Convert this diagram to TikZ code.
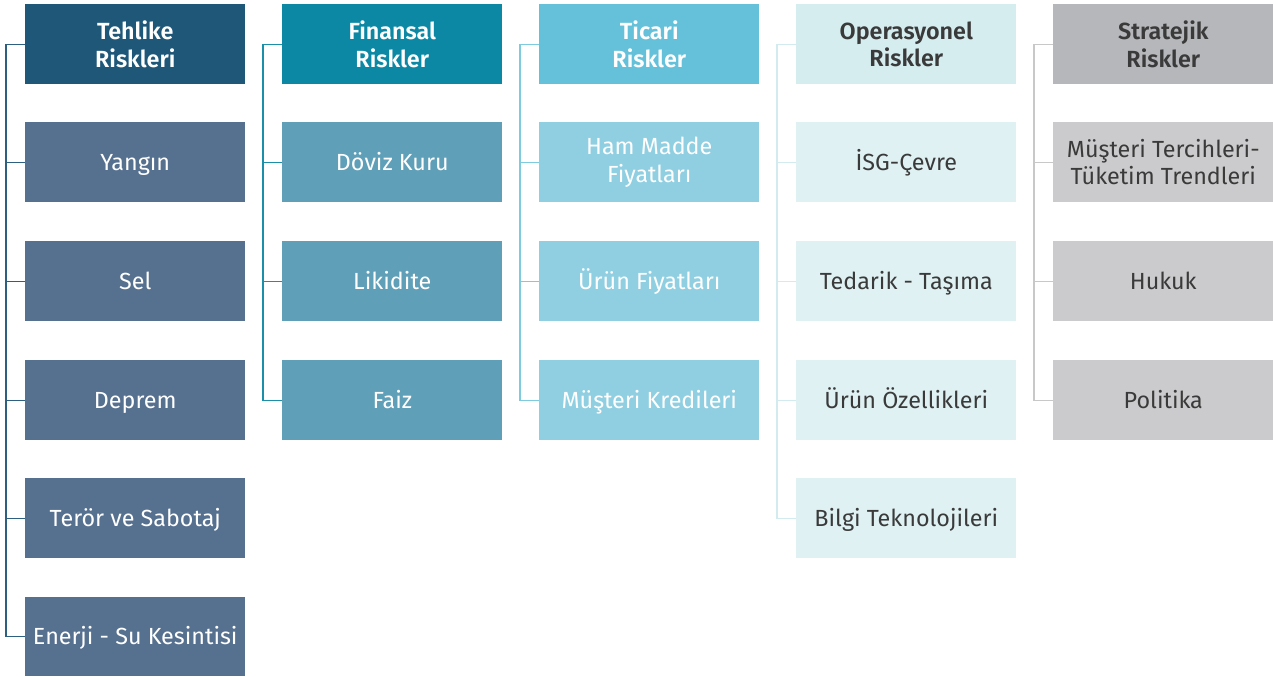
\documentclass[tikz,border=0pt]{standalone}
\usepackage{fontspec}
\setmainfont{Fira Sans}[BoldFont={Fira Sans SemiBold}]
\begin{document}
\begin{tikzpicture}[x=0.75pt,y=-0.75pt,
  box/.style={minimum width=165pt,minimum height=60pt,inner sep=0pt,align=center,font=\fontsize{17.5}{20.5}\selectfont,anchor=north west},
  one/.style={box,text height=12pt,text depth=0pt},
  head/.style={box,font=\fontsize{17.5}{20.5}\selectfont\bfseries},
  link/.style={line width=1pt}]
\definecolor{hA}{HTML}{1F5779}\definecolor{cA}{HTML}{56708F}\definecolor{lA}{HTML}{2D5F80}
\definecolor{hB}{HTML}{0C88A5}\definecolor{cB}{HTML}{609FB8}\definecolor{lB}{HTML}{1B8FAA}
\definecolor{hC}{HTML}{65C1DA}\definecolor{cC}{HTML}{8FCFE1}\definecolor{lC}{HTML}{7ECBE0}
\definecolor{hD}{HTML}{D6EDF0}\definecolor{cD}{HTML}{DFF1F3}\definecolor{lD}{HTML}{D3EBEF}
\definecolor{hE}{HTML}{B6B7BA}\definecolor{cE}{HTML}{CBCBCD}\definecolor{lE}{HTML}{C8C8C8}
\definecolor{tx}{HTML}{3A3A3A}
\useasboundingbox[fill=white] (0,0) rectangle (1273,676);
% column 1
\node[head,fill=hA,text=white] (a0) at (25,4) {Tehlike\\Riskleri};
\node[one,fill=cA,text=white] (a1) at (25,122) {Yangın};
\node[one,fill=cA,text=white] (a2) at (25,241) {Sel};
\node[one,fill=cA,text=white] (a3) at (25,360) {Deprem};
\node[one,fill=cA,text=white] (a4) at (25,478) {Terör ve Sabotaj};
\node[one,fill=cA,text=white,minimum height=59.25pt] (a5) at (25,597) {Enerji - Su Kesintisi};
% column 2
\node[head,fill=hB,text=white] (b0) at (282,4) {Finansal\\Riskler};
\node[one,fill=cB,text=white] (b1) at (282,122) {Döviz Kuru};
\node[one,fill=cB,text=white] (b2) at (282,241) {Likidite};
\node[one,fill=cB,text=white] (b3) at (282,360) {Faiz};
% column 3
\node[head,fill=hC,text=white] (c0) at (539,4) {Ticari\\Riskler};
\node[box,fill=cC,text=white] (c1) at (539,122) {Ham Madde\\Fiyatları};
\node[one,fill=cC,text=white] (c2) at (539,241) {Ürün Fiyatları};
\node[one,fill=cC,text=white] (c3) at (539,360) {Müşteri Kredileri};
% column 4
\node[head,fill=hD,text=tx] (d0) at (796,4) {Operasyonel\\Riskler};
\node[one,fill=cD,text=tx] (d1) at (796,122) {İSG-Çevre};
\node[one,fill=cD,text=tx] (d2) at (796,241) {Tedarik - Taşıma};
\node[one,fill=cD,text=tx] (d3) at (796,360) {Ürün Özellikleri};
\node[one,fill=cD,text=tx] (d4) at (796,478) {Bilgi Teknolojileri};
% column 5
\node[head,fill=hE,text=tx] (e0) at (1053,4) {Stratejik\\Riskler};
\node[box,fill=cE,text=tx] (e1) at (1053,122) {Müşteri Tercihleri-\\Tüketim Trendleri};
\node[one,fill=cE,text=tx] (e2) at (1053,241) {Hukuk};
\node[one,fill=cE,text=tx] (e3) at (1053,360) {Politika};
% connectors
\draw[link,lA] (a0.west) -| (6,0 |- a5.west) -- (a5.west);
\foreach \n in {a1,a2,a3,a4} \draw[link,lA] (6,0 |- \n.west) -- (\n.west);
\draw[link,lB] (b0.west) -| (263,0 |- b3.west) -- (b3.west);
\foreach \n in {b1,b2} \draw[link,lB] (263,0 |- \n.west) -- (\n.west);
\draw[link,lC] (c0.west) -| (520,0 |- c3.west) -- (c3.west);
\foreach \n in {c1,c2} \draw[link,lC] (520,0 |- \n.west) -- (\n.west);
\draw[link,lD] (d0.west) -| (777,0 |- d4.west) -- (d4.west);
\foreach \n in {d1,d2,d3} \draw[link,lD] (777,0 |- \n.west) -- (\n.west);
\draw[link,lE] (e0.west) -| (1034,0 |- e3.west) -- (e3.west);
\foreach \n in {e1,e2} \draw[link,lE] (1034,0 |- \n.west) -- (\n.west);
\end{tikzpicture}
\end{document}
